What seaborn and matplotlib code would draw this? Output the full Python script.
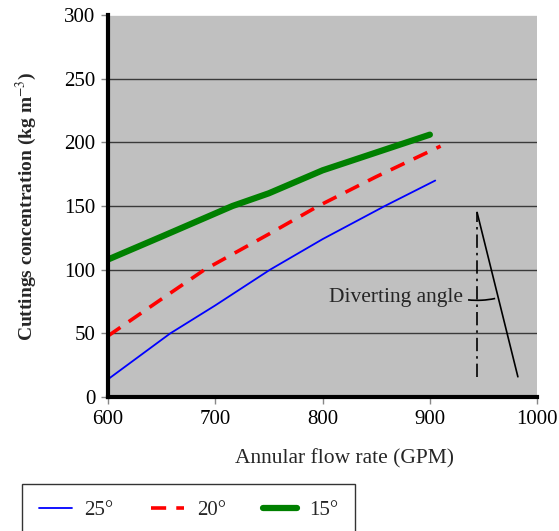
import matplotlib
matplotlib.use("Agg")
import matplotlib.pyplot as plt
import seaborn as sns
import numpy as np
import pandas as pd
from matplotlib.patches import Arc

# values
flow_25 = [600, 658, 700, 751, 800, 858, 905]
conc_25 = [14, 50, 72, 100, 124, 150, 170]
flow_20 = [600, 650, 690, 750, 796, 850, 910]
conc_20 = [48, 77, 100, 128, 150, 173, 197]
flow_15 = [600, 650, 716, 750, 800, 850, 900]
conc_15 = [108, 126, 150, 160, 178, 192, 206]
labels = ["25°", "20°", "15°"]
colors = ["#0000ff", "#ff0000", "#008000"]

# annotation sketch (diverting angle)
ref_x = [944, 944]
ref_y = [16, 145]
arm_x = [944, 982]
arm_y = [145, 16]

sns.set_theme(style="white")
plt.rcParams["font.family"] = ["Liberation Serif", "DejaVu Serif"]
plt.rcParams["mathtext.fontset"] = "stix"

fig = plt.figure(figsize=(5.59, 5.31), dpi=100)
ax = fig.add_axes([0.193, 0.252, 0.768, 0.72])
ax.set_facecolor("#c0c0c0")

df = pd.concat([
    pd.DataFrame({"flow": flow_25, "conc": conc_25, "angle": labels[0]}),
    pd.DataFrame({"flow": flow_20, "conc": conc_20, "angle": labels[1]}),
    pd.DataFrame({"flow": flow_15, "conc": conc_15, "angle": labels[2]}),
])

for y in [50, 100, 150, 200, 250]:
    ax.axhline(y, color="#3a3a3a", lw=1, zorder=0)
ax.axhline(300, color="white", lw=1.2, zorder=0)

styles = {"25°": dict(lw=1.3, ls="-"), "20°": dict(lw=2.6, ls=(0, (4.2, 2.8))),
          "15°": dict(lw=4.5, ls="-")}
for lab, col in zip(labels, colors):
    sub = df[df["angle"] == lab]
    sns.lineplot(data=sub, x="flow", y="conc", color=col, ax=ax, label=lab,
                 sort=False, **styles[lab])

ax.plot(ref_x, ref_y, color="black", lw=1.2, ls=(0, (8, 3, 1.5, 3)))
ax.plot(arm_x, arm_y, color="black", lw=1.2)
# arc drawn as a circle in pixel space around the vertex
ax.add_patch(Arc((944, 145), 164, 138, theta1=263, theta2=284, color="black", lw=1.2))
ax.text(931, 78, "Diverting angle", ha="right", va="center", fontsize=15.5)

ax.set_xlim(600, 1000)
ax.set_ylim(0, 300)
ax.set_xticks([600, 700, 800, 900, 1000])
ax.set_yticks(range(0, 301, 50))
ax.tick_params(axis="both", direction="out", length=5, width=1,
               labelsize=15, bottom=True, left=True, pad=4)
ax.tick_params(axis="both", color="#888888", labelcolor="black")
for s in ["top", "right"]:
    ax.spines[s].set_visible(False)
ax.spines["left"].set_linewidth(3)
ax.spines["left"].set_color("black")
ax.spines["bottom"].set_linewidth(3)
ax.spines["bottom"].set_color("black")

ax.set_xlabel("Annular flow rate (GPM)", fontsize=15.5)
ax.set_ylabel("Cuttings concentration (kg m$^{-3}$)", fontsize=14,
              fontweight="bold")
ax.xaxis.set_label_coords(0.55, -0.135)
ax.yaxis.set_label_coords(-0.16, 0.5)

ax.get_legend().remove()
h, l = ax.get_legend_handles_labels()
fig.legend(h, l, loc="upper left", bbox_to_anchor=(22 / 559, 1 - 484 / 531),
           borderaxespad=0, ncol=3, frameon=True, fontsize=15, fancybox=False,
           edgecolor="#333333", handlelength=1.6, handletextpad=0.6,
           columnspacing=1.8, borderpad=0.8, framealpha=1)

fig.savefig("out.png", dpi=100)
